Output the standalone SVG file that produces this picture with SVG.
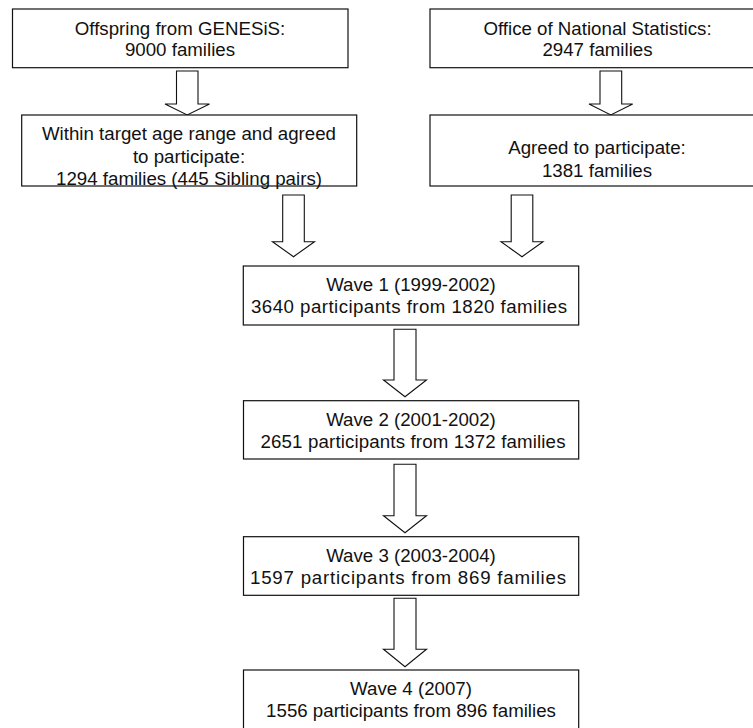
<svg xmlns="http://www.w3.org/2000/svg" width="753" height="728" viewBox="0 0 753 728">
<style>
  .box { fill: #ffffff; stroke: #111111; stroke-width: 1.2; }
  .arrow { fill: #ffffff; stroke: #111111; stroke-width: 1.1; stroke-linejoin: miter; }
  text { font-family: "Liberation Sans", Arial, sans-serif; font-size: 18.7px; fill: #111111; text-anchor: middle; }
</style>
<rect x="0" y="0" width="753" height="728" fill="#ffffff"/>
<g id="connectors">
  <path class="arrow" d="M176.5,71 H198 V104 H209.5 L187.2,115 L165,104 H176.5 Z"/>
  <path class="arrow" d="M600,71 H621.7 V104 H632.7 L610.8,115 L589,104 H600 Z"/>
  <path class="arrow" d="M282.7,195 H304.3 V241.7 H314.5 L293.5,256.7 L272.5,241.7 H282.7 Z"/>
  <path class="arrow" d="M511.2,195 H532.8 V241.7 H543 L522,256.7 L501,241.7 H511.2 Z"/>
  <path class="arrow" d="M394,329.3 H416 V380 H426.5 L405,396.7 L383.5,380 H394 Z"/>
  <path class="arrow" d="M394,464.3 H416 V515.7 H426.5 L405,532.7 L383.5,515.7 H394 Z"/>
  <path class="arrow" d="M394,598.3 H416 V649.3 H426.5 L405,666.7 L383.5,649.3 H394 Z"/>
</g>
<g id="genesis">
  <rect class="box" x="12.5" y="9" width="335.5" height="58.7"/>
  <text x="180" y="35">Offspring from GENESiS:</text>
  <text x="180" y="56">9000 families</text>
</g>
<g id="ons">
  <rect class="box" x="430" y="9" width="334" height="58.7"/>
  <text x="597.5" y="35">Office of National Statistics:</text>
  <text x="597.5" y="56">2947 families</text>
</g>
<g id="within-target">
  <rect class="box" x="21.7" y="115" width="335" height="71"/>
  <text x="189" y="140">Within target age range and agreed</text>
  <text x="189" y="162.5">to participate:</text>
  <text x="189" y="185">1294 families (445 Sibling pairs)</text>
</g>
<g id="agreed">
  <rect class="box" x="430" y="115" width="334" height="71"/>
  <text x="597" y="154">Agreed to participate:</text>
  <text x="597" y="176.7">1381 families</text>
</g>
<g id="wave1">
  <rect class="box" x="243.3" y="266" width="335.4" height="59"/>
  <text x="411" y="290.7">Wave 1 (1999-2002)</text>
  <text x="409" y="312.5" textLength="316" lengthAdjust="spacing">3640 participants from 1820 families</text>
</g>
<g id="wave2">
  <rect class="box" x="243.5" y="400.7" width="335.2" height="58.3"/>
  <text x="411" y="425.7">Wave 2 (2001-2002)</text>
  <text x="413" y="447.7" textLength="305" lengthAdjust="spacing">2651 participants from 1372 families</text>
</g>
<g id="wave3">
  <rect class="box" x="243.5" y="536.7" width="335.2" height="58.6"/>
  <text x="411" y="561.7">Wave 3 (2003-2004)</text>
  <text x="408" y="583.5" textLength="316" lengthAdjust="spacing">1597 participants from 869 families</text>
</g>
<g id="wave4">
  <rect class="box" x="243.5" y="670" width="335.2" height="70"/>
  <text x="411" y="694.5">Wave 4 (2007)</text>
  <text x="411" y="716.5">1556 participants from 896 families</text>
</g>
</svg>
